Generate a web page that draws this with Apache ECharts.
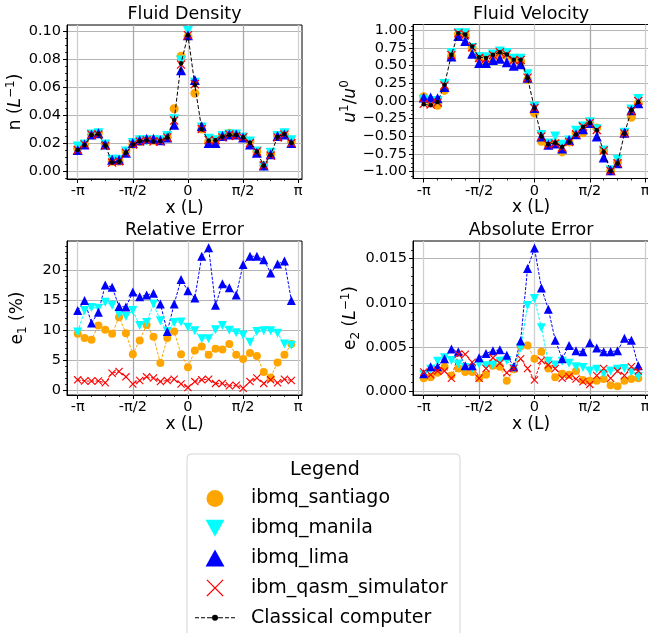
<!DOCTYPE html>
<html><head><meta charset="utf-8">
<script src="https://cdn.jsdelivr.net/npm/echarts@6/dist/echarts.min.js"></script>
<style>html,body{margin:0;padding:0;background:#fff}#c{width:648px;height:633px}</style>
</head><body><div id="c"></div>
<script>
// ---------- data ----------
const xs = [-3.1416,-2.9452,-2.7489,-2.5525,-2.3562,-2.1598,-1.9635,-1.7671,-1.5708,-1.3744,-1.1781,-0.9817,-0.7854,-0.5890,-0.3927,-0.1963,
  0,0.1963,0.3927,0.5890,0.7854,0.9817,1.1781,1.3744,1.5708,1.7671,1.9635,2.1598,2.3562,2.5525,2.7489,2.9452];
const xTickValues = [-Math.PI, -Math.PI/2, 0, Math.PI/2, Math.PI];
const xTickLabels = ['-π','-π/2','0','π/2','π'];

const densityClassical = [0.015,0.0186,0.0257,0.0264,0.0183,0.006,0.0067,0.013,0.019,0.0214,0.022,0.021,0.0214,0.024,0.0364,0.077,0.097,0.0614,0.0298,0.0217,0.022,0.0245,0.0257,0.0257,0.024,0.0202,0.0138,0.0038,0.0114,0.0245,0.0264,0.0202];
const densitySantiago = [0.016,0.019,0.026,0.027,0.019,0.007,0.007,0.014,0.019,0.021,0.022,0.022,0.022,0.024,0.0445,0.082,0.096,0.0555,0.030,0.021,0.022,0.025,0.027,0.026,0.024,0.021,0.014,0.004,0.012,0.025,0.026,0.021];
const densityManila = [0.0175,0.019,0.026,0.027,0.019,0.008,0.008,0.014,0.020,0.022,0.022,0.022,0.022,0.025,0.037,0.079,0.100,0.063,0.031,0.023,0.022,0.025,0.026,0.026,0.024,0.021,0.014,0.003,0.013,0.025,0.027,0.022];
const densityLima = [0.015,0.019,0.026,0.027,0.019,0.008,0.008,0.013,0.020,0.022,0.023,0.023,0.022,0.024,0.033,0.072,0.097,0.065,0.032,0.020,0.020,0.025,0.026,0.026,0.024,0.019,0.013,0.004,0.012,0.025,0.026,0.020];
const densitySim = [0.015,0.019,0.026,0.026,0.018,0.006,0.007,0.013,0.019,0.021,0.022,0.021,0.021,0.024,0.036,0.076,0.097,0.062,0.030,0.022,0.022,0.024,0.026,0.025,0.024,0.020,0.014,0.004,0.011,0.024,0.026,0.020];

const velocityClassical = [-0.047,-0.06,-0.014,0.23,0.655,0.96,0.94,0.77,0.62,0.61,0.655,0.69,0.66,0.585,0.585,0.325,-0.1,-0.5,-0.61,-0.59,-0.65,-0.58,-0.475,-0.367,-0.31,-0.414,-0.72,-0.99,-0.885,-0.46,-0.13,-0.014];
const velocitySantiago = [0.06,-0.02,-0.06,0.15,0.63,0.95,0.93,0.75,0.6,0.53,0.62,0.66,0.64,0.57,0.56,0.3,-0.17,-0.57,-0.62,-0.6,-0.72,-0.58,-0.45,-0.45,-0.31,-0.38,-0.7,-0.99,-0.87,-0.46,-0.23,-0.03];
const velocityManila = [0.02,0.0,0.0,0.24,0.68,0.96,0.96,0.75,0.62,0.62,0.66,0.7,0.68,0.6,0.6,0.38,-0.08,-0.48,-0.6,-0.5,-0.62,-0.56,-0.42,-0.36,-0.3,-0.4,-0.7,-0.98,-0.83,-0.45,-0.12,0.03];
const velocityLima = [0.05,0.05,0.04,0.2,0.63,0.92,0.85,0.67,0.54,0.54,0.58,0.6,0.55,0.5,0.52,0.33,-0.1,-0.5,-0.62,-0.6,-0.67,-0.55,-0.47,-0.4,-0.31,-0.5,-0.8,-0.98,-0.88,-0.45,-0.13,-0.03];
const velocitySim = [-0.04,-0.05,-0.02,0.22,0.65,0.96,0.94,0.76,0.61,0.6,0.65,0.69,0.66,0.58,0.58,0.33,-0.1,-0.5,-0.62,-0.6,-0.66,-0.58,-0.47,-0.36,-0.31,-0.41,-0.7,-0.99,-0.88,-0.46,-0.14,0.0];

const relSantiago = [9.4,8.7,8.4,10.8,10.1,9.4,12.2,9.5,6.0,8.3,10.9,8.9,4.5,8.7,9.8,6.0,3.8,6.6,7.3,5.9,6.9,6.8,7.7,5.9,5.2,6.2,5.7,3.0,2.1,4.6,5.9,7.7];
const relManila = [9.7,13.3,13.8,13.7,14.7,14.2,12.7,12.3,13.3,10.8,11.3,14.4,11.6,9.8,11.3,11.4,10.5,9.9,8.6,8.6,10.1,10.8,10.0,9.6,9.2,8.0,9.8,9.9,9.9,9.5,7.7,7.5];
const relLima = [13.3,15.0,11.2,13.0,17.6,17.2,14.0,13.9,16.4,15.6,15.9,16.2,14.4,9.8,14.4,18.5,16.6,15.4,22.4,23.8,14.2,17.8,17.1,15.9,21.0,22.4,22.4,21.8,19.6,21.1,21.6,15.0];
const relSim = [1.7,1.5,1.5,1.5,1.2,2.8,3.1,2.2,1.0,1.6,2.2,2.0,1.4,1.6,1.8,1.0,0.4,1.4,1.7,1.8,1.1,1.1,0.7,0.8,0.3,1.4,2.0,1.1,1.7,1.2,1.8,1.6];

const absSantiago = [0.0015,0.0016,0.0021,0.0028,0.0018,0.0026,0.0022,0.0022,0.0015,0.0019,0.0029,0.0028,0.0012,0.0025,0.0051,0.0052,0.0037,0.0045,0.0026,0.0016,0.0020,0.0019,0.0023,0.0013,0.0012,0.0012,0.0014,0.0007,0.0006,0.0012,0.0014,0.0015];
const absManila = [0.0019,0.0025,0.0034,0.0038,0.0035,0.0031,0.0027,0.0026,0.0031,0.0029,0.0030,0.0034,0.0035,0.0026,0.0049,0.0097,0.0105,0.0072,0.0034,0.0030,0.0034,0.0032,0.0028,0.0027,0.0023,0.0025,0.0020,0.0023,0.0025,0.0026,0.0022,0.0017];
const absLima = [0.0020,0.0028,0.0028,0.0037,0.0048,0.0045,0.0029,0.0029,0.0038,0.0043,0.0046,0.0047,0.0041,0.0028,0.0057,0.0139,0.0162,0.0117,0.0093,0.0058,0.0037,0.0052,0.0046,0.0045,0.0055,0.0049,0.0045,0.0045,0.0046,0.0060,0.0058,0.0029];
const absSim = [0.0022,0.0019,0.0023,0.0023,0.0015,0.0042,0.0042,0.0033,0.0015,0.0026,0.0038,0.0032,0.0021,0.0026,0.0037,0.0026,0.0013,0.0035,0.0030,0.0026,0.0015,0.0017,0.0014,0.0011,0.0008,0.0018,0.0026,0.0015,0.0023,0.0018,0.0028,0.0023];

const densityTicks = [0, 0.02, 0.04, 0.06, 0.08, 0.10];
const velocityTicks = [-1, -0.75, -0.5, -0.25, 0, 0.25, 0.5, 0.75, 1];
const relTicks = [0, 5, 10, 15, 20];
const absTicks = [0, 0.005, 0.010, 0.015];

// ---------- styling ----------
const FONT = 'DejaVu Sans';
const XPATH = 'path://M0,1L1,0L10,9L9,10Z M9,0L10,1L1,10L0,9Z';
const XPATH_LEG = 'path://M0,0.5L0.5,0L10,9.5L9.5,10Z M9.5,0L10,0.5L0.5,10L0,9.5Z';
const DOWNTRI = 'path://M0,0L10,0L5,9Z';
const UPTRI = 'path://M5,0L10,9L0,9Z';
const CLASSIC_ICON = 'path://M0,8.5h4v1h-4z M6,8.5h4v1h-4z M12,8.5h5v1h-5z M23,8.5h5v1h-5z M30,8.5h4v1h-4z M36,8.5h4v1h-4z M17,9a3,3 0 1,0 6,0a3,3 0 1,0 -6,0z';

const ST = {
  santiago: {name:'ibmq_santiago', color:'#FFA500', symbol:'circle', size:[9,8], rotate:0},
  manila:   {name:'ibmq_manila', color:'#00FFFF', symbol:'triangle', size:[10,9], rotate:180},
  lima:     {name:'ibmq_lima', color:'#0000FF', symbol:'triangle', size:[10,9], rotate:0},
  sim:      {name:'ibm_qasm_simulator', color:'#FF0000', symbol:XPATH, size:[9,8], rotate:0}
};

const XMIN = -3.446, XMAX = 3.249;
const xMinor = [-7,-6,-5,-3,-2,-1,1,2,3,5,6,7].map(k => k*Math.PI/8);

function range(a,b,step,skipEvery){ const r=[]; for(let k=a;k<=b;k++){ if(k%skipEvery!==0) r.push(+(k*step).toFixed(6)); } return r; }

const grids = [
  {left:67, top:25, width:235, height:154},
  {left:413, top:24.5, width:236, height:154},
  {left:67, top:241, width:235, height:154},
  {left:413, top:241, width:236, height:154}
];

const yCfg = [
  {min:-0.0057, max:0.1043, ticks:densityTicks, minor:range(-1,20,0.005,4), fmt:v=>v.toFixed(2), gap:40,
   name:'{n|n (}{i|L}{sup|−1}{n|)}'},
  {min:-1.096, max:1.083, ticks:velocityTicks, minor:range(-17,17,0.0625,4), fmt:v=>v.toFixed(2).replace('-','−'), gap:46,
   name:'{i|u}{sup|1}{n|/}{i|u}{sup|0}'},
  {min:-0.84, max:24.95, ticks:relTicks, minor:range(0,24,1,5), fmt:v=>String(v), gap:38,
   name:'{n|e}{sub|1}{n| (%)}'},
  {min:-0.0004, max:0.0170, ticks:absTicks, minor:range(0,16,0.001,5), fmt:v=>v.toFixed(3), gap:46,
   name:'{n|e}{sub|2}{n| (}{i|L}{sup|−1}{n|)}'}
];

const rich = {
  n:{fontSize:17, fontFamily:FONT, color:'#000', lineHeight:22},
  i:{fontSize:17, fontFamily:FONT, color:'#000', fontStyle:'italic', lineHeight:22},
  sup:{fontSize:12, fontFamily:FONT, color:'#000', verticalAlign:'top'},
  sub:{fontSize:12, fontFamily:FONT, color:'#000', verticalAlign:'bottom'}
};

const xAxes = [], yAxes = [];
grids.forEach((g, gi) => {
  xAxes.push({
    type:'value', gridIndex:gi, min:XMIN, max:XMAX, position:'bottom',
    axisLine:{show:true, onZero:false, lineStyle:{color:'#000', width:1}},
    axisTick:{show:true, customValues:xTickValues, length:4, lineStyle:{color:'#000', width:1}},
    axisLabel:{customValues:xTickValues, margin:5, fontSize:14.5, fontFamily:FONT, color:'#000',
      formatter: v => { const i = xTickValues.findIndex(t => Math.abs(t - v) < 1e-6); return i >= 0 ? xTickLabels[i] : ''; }},
    splitLine:{show:true, lineStyle:{color:['#cfcfcf','#a9a9a9'], width:1.3}},
    name:'x (L)', nameLocation:'middle', nameGap:16,
    nameTextStyle:{fontSize:17, fontFamily:FONT, color:'#000'}
  });
  xAxes.push({
    type:'value', gridIndex:gi, min:XMIN, max:XMAX, position:'bottom',
    axisLine:{show:false, onZero:false}, axisLabel:{show:false}, splitLine:{show:false},
    axisTick:{show:true, customValues:xMinor, length:2, lineStyle:{color:'#000', width:0.8}}
  });
  const c = yCfg[gi];
  yAxes.push({
    type:'value', gridIndex:gi, min:c.min, max:c.max, position:'left',
    axisLine:{show:true, onZero:false, lineStyle:{color:'#000', width:1}},
    axisTick:{show:true, customValues:c.ticks, length:4, lineStyle:{color:'#000', width:1}},
    axisLabel:{customValues:c.ticks, margin:6, fontSize:14.5, fontFamily:FONT, color:'#000', formatter:c.fmt},
    splitLine:{show:true, lineStyle:{color:'#b4b4b4', width:1}},
    name:c.name, nameLocation:'middle', nameGap:c.gap,
    nameTextStyle:{fontSize:17, fontFamily:FONT, color:'#000', rich:rich}
  });
  yAxes.push({
    type:'value', gridIndex:gi, min:c.min, max:c.max, position:'left',
    axisLine:{show:false, onZero:false}, axisLabel:{show:false}, splitLine:{show:false},
    axisTick:{show:true, customValues:c.minor, length:2, lineStyle:{color:'#000', width:0.8}}
  });
});

function pts(arr){ return xs.map((x,i) => [x, arr[i]]); }

const series = [];
function addPanel(gi, sets, connect, classical){
  sets.forEach(([key, arr]) => {
    const s = ST[key];
    const base = {
      name:s.name, xAxisIndex:2*gi, yAxisIndex:2*gi, data:pts(arr),
      symbol:s.symbol, symbolSize:connect ? s.size[1] : s.size[0], symbolRotate:s.rotate,
      itemStyle:{color:s.color, opacity:1}, animation:false
    };
    if (connect) {
      series.push(Object.assign(base, {type:'line', showSymbol:true,
        lineStyle:{color:s.color, width:1, type:[3,1.5]}}));
    } else {
      series.push(Object.assign(base, {type:'scatter'}));
    }
  });
  if (classical) {
    series.push({type:'line', name:'Classical computer', xAxisIndex:2*gi, yAxisIndex:2*gi,
      data:pts(classical), symbol:'circle', symbolSize:4.5, showSymbol:true,
      itemStyle:{color:'#000'}, lineStyle:{color:'#000', width:1, type:[4,2]}, animation:false});
  }
}
addPanel(0, [['santiago',densitySantiago],['manila',densityManila],['lima',densityLima],['sim',densitySim]], false, densityClassical);
addPanel(1, [['santiago',velocitySantiago],['manila',velocityManila],['lima',velocityLima],['sim',velocitySim]], false, velocityClassical);
addPanel(2, [['santiago',relSantiago],['manila',relManila],['lima',relLima],['sim',relSim]], true, null);
addPanel(3, [['santiago',absSantiago],['manila',absManila],['lima',absLima],['sim',absSim]], true, null);

const titleStyle = {fontSize:17.5, fontFamily:FONT, fill:'#000', align:'center', verticalAlign:'middle'};
const option = {
  animation:false,
  backgroundColor:'#fff',
  grid: grids.map(g => Object.assign({show:true, borderColor:'#000', borderWidth:1, backgroundColor:'transparent', containLabel:false, outerBoundsMode:'none'}, g)),
  xAxis: xAxes,
  yAxis: yAxes,
  series: series,
  legend: {
    orient:'vertical', left:195, top:489, padding:0, height:150,
    itemWidth:40, itemHeight:17, itemGap:10.8,
    selectedMode:false,
    itemStyle:{borderWidth:0, opacity:1},
    textStyle:{fontSize:19, fontFamily:FONT, color:'#000', padding:[0,0,0,11]},
    data:[
      {name:'ibmq_santiago', icon:'circle'},
      {name:'ibmq_manila', icon:DOWNTRI},
      {name:'ibmq_lima', icon:UPTRI},
      {name:'ibm_qasm_simulator', icon:XPATH_LEG},
      {name:'Classical computer', icon:CLASSIC_ICON}
    ]
  },
  graphic: [
    {type:'rect', z:-10, shape:{x:187, y:454, width:273, height:200, r:4}, style:{fill:'#fff', stroke:'#d4d4d4', lineWidth:1}},
    {type:'text', x:325, y:470, style:Object.assign({}, titleStyle, {text:'Legend', fontSize:19})},
    {type:'text', x:184.5, y:14, style:Object.assign({}, titleStyle, {text:'Fluid Density'})},
    {type:'text', x:531, y:14, style:Object.assign({}, titleStyle, {text:'Fluid Velocity'})},
    {type:'text', x:184.5, y:230, style:Object.assign({}, titleStyle, {text:'Relative Error'})},
    {type:'text', x:531, y:230, style:Object.assign({}, titleStyle, {text:'Absolute Error'})}
  ]
};
const chart = echarts.init(document.getElementById('c'), null, {renderer:'canvas'});
chart.setOption(option);
</script>
</body></html>
